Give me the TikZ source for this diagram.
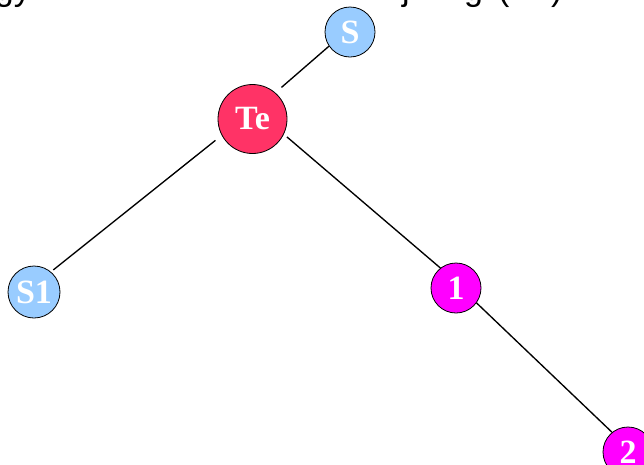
\documentclass[tikz,border=0pt]{standalone}
\usepackage{fontspec}
\setmainfont{Liberation Serif}
\newfontfamily\topfont{Liberation Sans}
\definecolor{skyb}{HTML}{99CCFF}
\definecolor{tered}{HTML}{FF3366}
\definecolor{magn}{HTML}{FF00FF}
\tikzset{
  atom/.style={circle, draw=black, line width=0.8pt, text=white, inner sep=0pt,
    font=\fontsize{34}{34}\selectfont\bfseries},
  bond/.style={line width=1.35pt, black},
  toptext/.style={font=\topfont\fontsize{34}{34}\selectfont, inner sep=0pt, anchor=base west}
}
\begin{document}
\begin{tikzpicture}[x=1pt,y=-1pt]
\useasboundingbox (0,0) rectangle (644,464);
\clip (0,0) rectangle (644,464);
% cut-off text at the top
\node[toptext, anchor=base east] (t1) at (31,0.5) {gy};
\node[toptext] (t2) at (402,0.5) {j};
\node[toptext] (t3) at (464,0.5) {g};
\node[toptext] (t4) at (498,0.5) {(};
\node[toptext] (t5) at (551,0.5) {)};
% atoms
\node[atom, fill=skyb, minimum size=50pt] (S) at (350,32) {S};
\node[atom, fill=tered, minimum size=69pt] (Te) at (252.5,119) {Te};
\node[atom, fill=skyb, minimum size=52pt] (S1) at (34,292) {S1};
\node[atom, fill=magn, minimum size=50pt] (N1) at (456,288) {1};
\node[atom, fill=magn, minimum size=50pt] (N2) at (628,452) {2};
% bonds
\draw[bond, shorten >=8pt] (S.214) -- (Te.49);
\draw[bond, shorten <=8pt, shorten >=3pt] (Te.208) -- (S1.50);
\draw[bond, shorten <=4pt] (Te.-26) -- (N1.128);
\draw[bond] (N1.-36) -- (N2.129);
\end{tikzpicture}
\end{document}
